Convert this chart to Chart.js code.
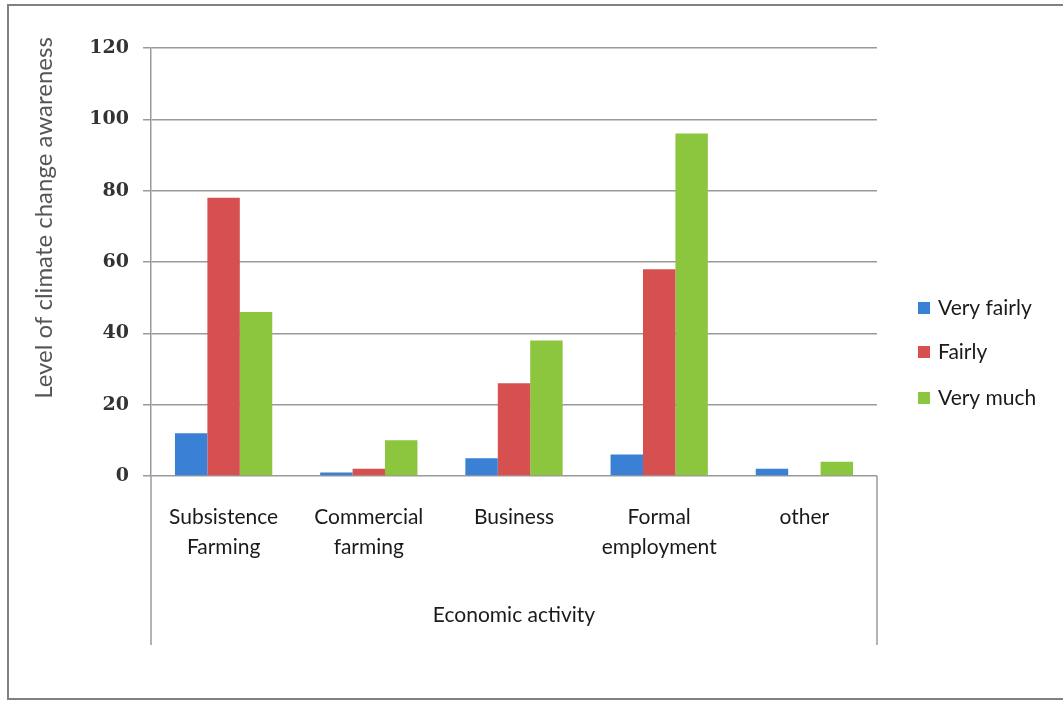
<!DOCTYPE html>
<html>
<head>
<meta charset="utf-8">
<script src="https://cdn.jsdelivr.net/npm/chart.js@4.4.1/dist/chart.umd.min.js"></script>
<style>
  html, body { margin: 0; padding: 0; background: #fff; }
  #wrap { width: 1063px; height: 702px; position: relative; }
</style>
</head>
<body>
<div id="wrap"><canvas id="awarenessChart" width="1063" height="702"></canvas></div>
<script>
// economic activity vs level of awareness
const categories = [
    ['Subsistence', 'Farming'],
    ['Commercial', 'farming'],
    ['Business'],
    ['Formal', 'employment'],
    ['other']
];
const seriesNames = ['Very fairly', 'Fairly', 'Very much'];
const veryFairly = [12, 1, 5, 6, 2];
const fairly = [78, 2, 26, 58, 0];
const veryMuch = [46, 10, 38, 96, 4];
const seriesColors = ['#3a80d5', '#d65050', '#8cc63f'];
const yTicks = [0, 20, 40, 60, 80, 100, 120];

const yTitle = 'Level of climate change awareness';
const xTitle = 'Economic activity';

const labelFont = 'Lato, "Open Sans", sans-serif';
const gridColor = '#9a9a9a';

// frame, titles, legend and the axis lines running under the category labels
const extras = {
    id: 'extras',
    afterDraw(chart) {
        const ctx = chart.ctx;
        const area = chart.chartArea;
        ctx.save();

        // outer frame
        ctx.strokeStyle = '#808080';
        ctx.lineWidth = 2;
        ctx.strokeRect(8, 5, 1070, 694);

        // axis lines continue down past the labels
        ctx.strokeStyle = gridColor;
        ctx.lineWidth = 1.5;
        ctx.beginPath();
        ctx.moveTo(area.left, area.bottom);
        ctx.lineTo(area.left, 645);
        ctx.moveTo(area.right, area.bottom);
        ctx.lineTo(area.right, 645);
        ctx.stroke();

        // y title
        ctx.fillStyle = '#555';
        ctx.font = '24px ' + labelFont;
        ctx.textAlign = 'center';
        ctx.textBaseline = 'middle';
        ctx.save();
        ctx.translate(44, 218);
        ctx.rotate(-Math.PI / 2);
        ctx.fillText(yTitle, 0, 0);
        ctx.restore();

        // x title
        ctx.fillStyle = '#1a1a1a';
        ctx.font = '21px ' + labelFont;
        ctx.fillText(xTitle, (area.left + area.right) / 2, 615);

        // legend
        const rows = [308, 352, 398];
        chart.data.datasets.forEach((ds, i) => {
            ctx.fillStyle = ds.backgroundColor;
            ctx.fillRect(918, rows[i] - 6, 12, 12);
            ctx.fillStyle = '#1a1a1a';
            ctx.font = '21px ' + labelFont;
            ctx.textAlign = 'left';
            ctx.fillText(ds.label, 938, rows[i]);
        });

        ctx.restore();
    }
};

window.onload = () => {
    const ctx = document.getElementById('awarenessChart').getContext('2d');
    new Chart(ctx, {
        type: 'bar',
        data: {
            labels: categories,
            datasets: [
                { label: seriesNames[0], data: veryFairly, backgroundColor: seriesColors[0] },
                { label: seriesNames[1], data: fairly, backgroundColor: seriesColors[1] },
                { label: seriesNames[2], data: veryMuch, backgroundColor: seriesColors[2] }
            ]
        },
        options: {
            responsive: false,
            animation: false,
            layout: { padding: { left: 0, top: 48, right: 186, bottom: 0 } },
            datasets: {
                bar: { barPercentage: 1, categoryPercentage: 0.67 }
            },
            plugins: {
                legend: { display: false },
                tooltip: { enabled: false }
            },
            scales: {
                x: {
                    grid: { display: false, drawTicks: false },
                    border: { display: false },
                    ticks: {
                        color: '#1a1a1a',
                        font: { family: labelFont, size: 21, lineHeight: 1.45 },
                        padding: 26,
                        maxRotation: 0,
                        autoSkip: false
                    },
                    afterFit(scale) { scale.height = 226; }
                },
                y: {
                    min: 0,
                    max: 120,
                    afterBuildTicks(scale) {
                        scale.ticks = yTicks.map(v => ({ value: v }));
                    },
                    grid: { color: gridColor, lineWidth: 1.5, tickLength: 8 },
                    border: { color: gridColor, width: 1.5 },
                    ticks: {
                        color: '#333',
                        font: { family: '"DejaVu Serif", serif', size: 19, weight: 'bold' },
                        padding: 14
                    },
                    afterFit(scale) { scale.width = 151; }
                }
            }
        },
        plugins: [extras]
    });
};
</script>
</body>
</html>
